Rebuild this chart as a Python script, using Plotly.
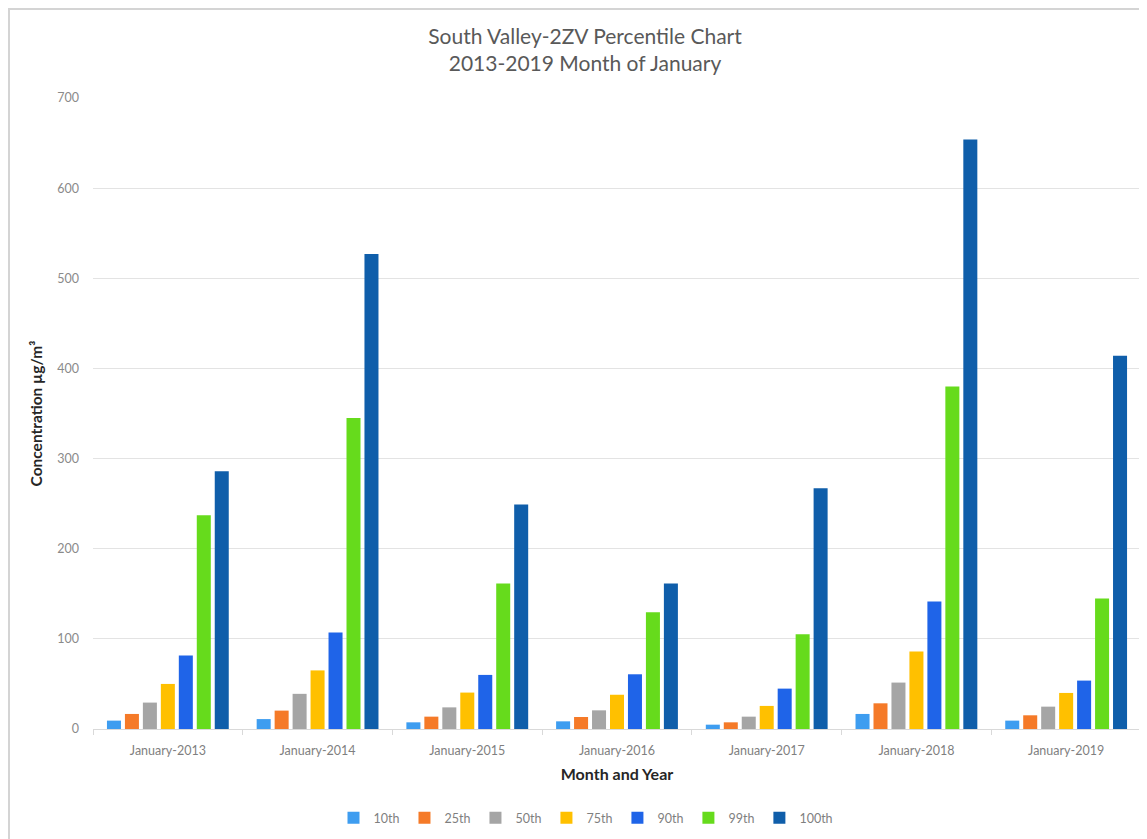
import plotly.graph_objects as go

categories = ["January-2013", "January-2014", "January-2015", "January-2016",
              "January-2017", "January-2018", "January-2019"]

p10 = [9.3, 11, 7.4, 8.5, 4.8, 16.7, 9.3]
p25 = [16.7, 20.4, 13.7, 13.3, 7.4, 28.5, 15.2]
p50 = [29.3, 39, 24, 20.7, 13.7, 51.5, 24.8]
p75 = [50, 65, 40.4, 38, 25.6, 86, 40]
p90 = [81.5, 107, 60, 60.7, 44.8, 141.5, 53.7]
p99 = [237, 345, 161.5, 129.6, 105, 380, 144.8]
p100 = [286, 527, 249, 161.5, 267, 654, 414]

series_names = ["10th", "25th", "50th", "75th", "90th", "99th", "100th"]
series_values = [p10, p25, p50, p75, p90, p99, p100]
series_colors = ["#3E9DF0", "#F57A28", "#A5A5A5", "#FFC000", "#1F64E8", "#66DB1C", "#0F5EAA"]

y_ticks = [0, 100, 200, 300, 400, 500, 600, 700]

font_family = "Lato, 'Open Sans', 'Liberation Sans', sans-serif"

fig = go.Figure()
for name, vals, col in zip(series_names, series_values, series_colors):
    fig.add_trace(go.Bar(name=name, x=categories, y=vals, marker_color=col,
                         marker_line_width=0))

# page body adds an 8px offset; figure is sized/positioned to compensate
W, H = 1139, 831
L, R, T, B = 85, 6, 90, 110
pw, ph = W - L - R, H - T - B

fig.update_layout(
    width=W, height=H,
    paper_bgcolor="white", plot_bgcolor="white",
    font=dict(family=font_family, color="#595959"),
    barmode="group", bargap=0.16, bargroupgap=0.22,
    margin=dict(l=L, r=R, t=T, b=B, autoexpand=False),
    title=dict(text="South Valley-2ZV Percentile Chart<br>2013-2019 Month of January",
               x=577 / W, xref="container", xanchor="center",
               y=1 - 36 / H, yref="container", yanchor="top",
               font=dict(size=21, color="#595959", family=font_family)),
    xaxis=dict(showgrid=False, showline=True, linecolor="#d9d9d9", linewidth=1,
               automargin=False,
               ticks="outside", ticklen=5, tickcolor="#d9d9d9",
               tickson="boundaries", ticklabelstandoff=10,
               tickfont=dict(size=12.5, color="#7f7f7f"),
               title=dict(text="<b>Month and Year</b>", standoff=11,
                          font=dict(size=16, color="#262626"))),
    yaxis=dict(range=[0, 700], tickvals=y_ticks, showgrid=True, gridcolor="#e3e3e3",
               gridwidth=1, zeroline=False, showline=False, automargin=False,
               ticks="", ticklabelstandoff=13,
               tickfont=dict(size=12.5, color="#8a8a8a"),
               title=dict(text="<b>Concentration µg/m³</b>", standoff=10,
                          font=dict(size=15.5, color="#262626"))),
    legend=dict(orientation="h", xref="container", x=578 / W, xanchor="center",
                yref="container", y=(H - 810) / H, yanchor="middle",
                font=dict(size=12.5, color="#7f7f7f"), itemwidth=30,
                traceorder="normal"),
    shapes=[dict(type="rect", xref="paper", yref="paper",
                 x0=(1 - L) / pw, x1=1.2, y0=-1.0, y1=1 + (T - 1) / ph,
                 line=dict(color="#d4d4d4", width=2), fillcolor="rgba(0,0,0,0)",
                 layer="below")],
)

fig.write_html("out.html")
